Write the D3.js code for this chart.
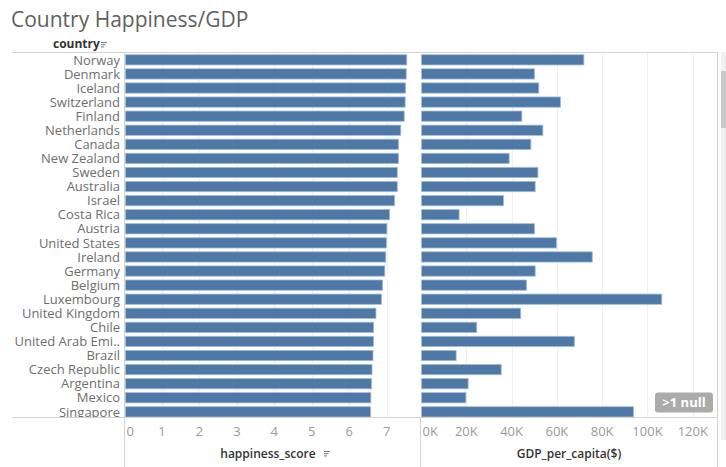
<!DOCTYPE html>
<html>
<head>
<meta charset="utf-8">
<script src="https://cdn.jsdelivr.net/npm/d3@7"></script>
<style>
  body { margin: 0; background: #fff; }
  svg { display: block; font-family: "Open Sans", sans-serif; }
</style>
</head>
<body>
<div class="chart"></div>
<script>
// Data
var countries = ["Norway", "Denmark", "Iceland", "Switzerland", "Finland", "Netherlands",
  "Canada", "New Zealand", "Sweden", "Australia", "Israel", "Costa Rica", "Austria",
  "United States", "Ireland", "Germany", "Belgium", "Luxembourg", "United Kingdom",
  "Chile", "United Arab Emi..", "Brazil", "Czech Republic", "Argentina", "Mexico", "Singapore"];
var happiness = [7.537, 7.522, 7.504, 7.494, 7.469, 7.377, 7.316, 7.314, 7.284, 7.284,
  7.213, 7.079, 7.006, 6.993, 6.977, 6.951, 6.891, 6.863, 6.714, 6.652, 6.648, 6.635,
  6.609, 6.599, 6.578, 6.572];
var gdp = [71700, 49900, 51800, 61400, 44300, 53600, 48300, 38700, 51400, 50200,
  36200, 16600, 49900, 59600, 75400, 50200, 46400, 106100, 43800, 24400, 67500, 15300,
  35200, 20600, 19600, 93600];
var happyTicks = [0, 1, 2, 3, 4, 5, 6, 7];
var gdpTicks = [0, 20000, 40000, 60000, 80000, 100000, 120000];

// Set up SVG area
var svgWidth = 726;
var svgHeight = 467;
var paneTop = 52.5, paneBottom = 417.5;

var svg = d3.select(".chart")
    .append("svg")
    .attr("width", svgWidth)
    .attr("height", svgHeight);

svg.append("defs").append("clipPath")
    .attr("id", "paneClip")
    .append("rect")
    .attr("x", 0).attr("y", paneTop)
    .attr("width", svgWidth).attr("height", paneBottom - paneTop);

// Scales
var yScale = d3.scaleBand()
    .domain(countries)
    .range([52.8, 52.8 + 14.08 * countries.length])
    .paddingInner(0.27)
    .paddingOuter(0.135);

var xHappy = d3.scaleLinear().domain([0, 7.89]).range([124.5, 420]);
var xGdp = d3.scaleLinear().domain([0, 130700]).range([421, 717]);

// Title
svg.append("text")
    .attr("x", 11)
    .attr("y", 27)
    .attr("fill", "#5f5f5f")
    .style("font-size", "21px")
    .text("Country Happiness/GDP");

// Column header
svg.append("text")
    .attr("x", 53)
    .attr("y", 48)
    .attr("fill", "#333")
    .style("font-size", "12px")
    .style("font-weight", "bold")
    .text("country");

function sortIcon(x, y) {
  var g = svg.append("g").attr("transform", "translate(" + x + "," + y + ")");
  [6, 4.5, 3].forEach(function(w, i) {
    g.append("rect").attr("x", 0).attr("y", i * 2.2).attr("width", w).attr("height", 1)
      .attr("fill", "#777");
  });
}
sortIcon(101, 42);

// Gridlines
var grid = svg.append("g");
grid.selectAll(".gh").data(happyTicks.slice(1)).enter().append("line")
    .attr("x1", d => Math.round(xHappy(d)) + 0.5).attr("x2", d => Math.round(xHappy(d)) + 0.5)
    .attr("y1", paneTop).attr("y2", paneBottom)
    .attr("stroke", "#f0f0f0");
grid.selectAll(".gg").data(gdpTicks.slice(1)).enter().append("line")
    .attr("x1", d => Math.round(xGdp(d)) + 0.5).attr("x2", d => Math.round(xGdp(d)) + 0.5)
    .attr("y1", paneTop).attr("y2", paneBottom)
    .attr("stroke", "#f0f0f0");

// Bars and labels
var rows = svg.append("g").attr("clip-path", "url(#paneClip)");

rows.selectAll(".lbl").data(countries).enter().append("text")
    .attr("x", 120)
    .attr("y", d => yScale(d) + yScale.bandwidth() / 2)
    .attr("dy", "0.36em")
    .attr("text-anchor", "end")
    .attr("fill", "#6e6e6e")
    .style("font-size", "13px")
    .text(d => d);

rows.selectAll(".hb").data(countries).enter().append("rect")
    .attr("x", xHappy(0) + 1)
    .attr("y", d => yScale(d))
    .attr("width", (d, i) => xHappy(happiness[i]) - xHappy(0) - 1)
    .attr("height", yScale.bandwidth())
    .attr("fill", "#4e79a7")
    .attr("stroke", "#a6bcd6")
    .attr("stroke-width", 0.8);

rows.selectAll(".gb").data(countries).enter().append("rect")
    .attr("x", xGdp(0) + 0.5)
    .attr("y", d => yScale(d))
    .attr("width", (d, i) => xGdp(gdp[i]) - xGdp(0))
    .attr("height", yScale.bandwidth())
    .attr("fill", "#4e79a7")
    .attr("stroke", "#a6bcd6")
    .attr("stroke-width", 0.8);

// Borders
var lineColor = "#d4d4d4";
svg.append("line").attr("x1", 12).attr("x2", 717.5).attr("y1", paneTop).attr("y2", paneTop).attr("stroke", lineColor);
svg.append("line").attr("x1", 12).attr("x2", 717.5).attr("y1", paneBottom).attr("y2", paneBottom).attr("stroke", lineColor);
svg.append("line").attr("x1", 124.5).attr("x2", 124.5).attr("y1", paneTop).attr("y2", svgHeight).attr("stroke", lineColor);
svg.append("line").attr("x1", 420.5).attr("x2", 420.5).attr("y1", paneBottom).attr("y2", svgHeight).attr("stroke", lineColor);
svg.append("line").attr("x1", 717.5).attr("x2", 717.5).attr("y1", paneTop).attr("y2", svgHeight).attr("stroke", lineColor);

// Axis tick labels
var tickColor = "#9a9a9a";
svg.selectAll(".th").data(happyTicks).enter().append("text")
    .attr("x", d => d === 0 ? xHappy(d) + 2 : xHappy(d))
    .attr("y", 436)
    .attr("text-anchor", d => d === 0 ? "start" : "middle")
    .attr("fill", tickColor)
    .style("font-size", "13px")
    .text(d => d);

svg.selectAll(".tg").data(gdpTicks).enter().append("text")
    .attr("x", d => d === 0 ? xGdp(d) + 1.5 : xGdp(d))
    .attr("y", 436)
    .attr("text-anchor", d => d === 0 ? "start" : "middle")
    .attr("fill", tickColor)
    .style("font-size", "13px")
    .text(d => (d / 1000) + "K");

// Axis titles
svg.append("text")
    .attr("x", 268).attr("y", 458)
    .attr("text-anchor", "middle")
    .attr("fill", "#333")
    .style("font-size", "12px")
    .style("font-weight", 600)
    .text("happiness_score");
sortIcon(324, 451);

svg.append("text")
    .attr("x", 569).attr("y", 458)
    .attr("text-anchor", "middle")
    .attr("fill", "#333")
    .style("font-size", "12px")
    .style("font-weight", 600)
    .text("GDP_per_capita($)");

// Null indicator
svg.append("rect")
    .attr("x", 655).attr("y", 392.5)
    .attr("width", 58).attr("height", 20)
    .attr("rx", 3)
    .attr("fill", "#ababab");
svg.append("text")
    .attr("x", 684).attr("y", 407)
    .attr("text-anchor", "middle")
    .attr("fill", "#fff")
    .style("font-size", "13px")
    .style("font-weight", "bold")
    .text(">1 null");

// Scrollbar
svg.append("rect").attr("x", 721).attr("y", 52).attr("width", 5).attr("height", 388).attr("fill", "#f1f1f1");
svg.append("rect").attr("x", 721).attr("y", 71).attr("width", 5).attr("height", 57).attr("fill", "#c9c9c9");
</script>
</body>
</html>
